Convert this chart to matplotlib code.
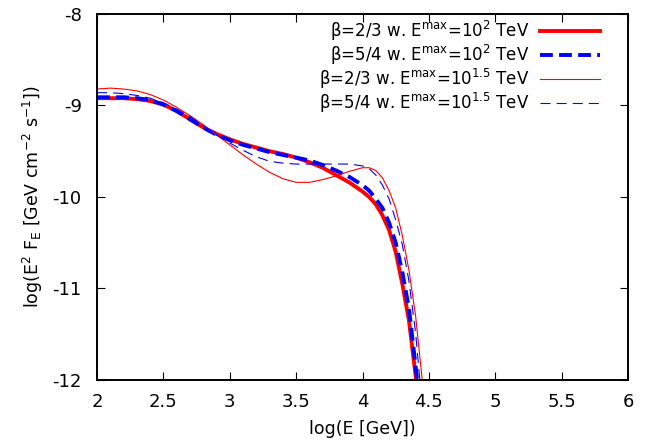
import numpy as np
import matplotlib
matplotlib.use("Agg")
import matplotlib.pyplot as plt

plt.rcParams['font.family'] = ['DejaVu Sans']
plt.rcParams['mathtext.default'] = 'regular'

# log(E [GeV]) sample points
logE = [2.0, 2.1, 2.2, 2.3, 2.4, 2.5, 2.6, 2.7, 2.8, 2.9, 3.0, 3.1, 3.2, 3.3, 3.4,
        3.5, 3.6, 3.7, 3.8, 3.9, 4.0, 4.05, 4.1, 4.15, 4.2, 4.25, 4.3, 4.35, 4.4,
        4.45, 4.5]

# beta=2/3, Emax=10^2 TeV
f_23_2 = [-8.92, -8.92, -8.92, -8.93, -8.95, -8.99, -9.06, -9.15, -9.24, -9.31,
          -9.37, -9.42, -9.46, -9.50, -9.53, -9.57, -9.62, -9.68, -9.76, -9.84,
          -9.94, -10.00, -10.08, -10.20, -10.36, -10.60, -10.95, -11.35, -11.95,
          -12.60, -13.3]
# beta=5/4, Emax=10^2 TeV
f_54_2 = [-8.91, -8.91, -8.91, -8.92, -8.94, -8.99, -9.06, -9.15, -9.24, -9.32,
          -9.38, -9.43, -9.47, -9.51, -9.54, -9.57, -9.60, -9.65, -9.71, -9.78,
          -9.87, -9.93, -10.02, -10.12, -10.28, -10.50, -10.82, -11.22, -11.85,
          -12.50, -13.2]
# beta=2/3, Emax=10^1.5 TeV
f_23_15 = [-8.82, -8.81, -8.82, -8.84, -8.88, -8.94, -9.02, -9.11, -9.21, -9.32,
           -9.43, -9.54, -9.64, -9.73, -9.80, -9.84, -9.84, -9.81, -9.77, -9.72,
           -9.68, -9.68, -9.71, -9.79, -9.93, -10.12, -10.42, -10.80, -11.30,
           -12.00, -12.70]
# beta=5/4, Emax=10^1.5 TeV
f_54_15 = [-8.86, -8.86, -8.87, -8.89, -8.92, -8.97, -9.04, -9.12, -9.22, -9.32,
           -9.41, -9.49, -9.56, -9.61, -9.63, -9.64, -9.64, -9.64, -9.64, -9.64,
           -9.66, -9.69, -9.76, -9.87, -10.02, -10.25, -10.52, -10.92, -11.48,
           -12.30, -13.0]

labels = [r'β=2/3 w. E$^{max}$=10$^{2}$ TeV',
          r'β=5/4 w. E$^{max}$=10$^{2}$ TeV',
          r'β=2/3 w. E$^{max}$=10$^{1.5}$ TeV',
          r'β=5/4 w. E$^{max}$=10$^{1.5}$ TeV']

fig = plt.figure(figsize=(6.51, 4.44), dpi=100)
ax = fig.add_axes([97/651, 64/444, 531/651, 366/444])

ax.plot(logE, f_23_2, color='red', lw=2.8, label=labels[0])
ax.plot(logE, f_54_2, color='blue', lw=2.8, dashes=(3.3, 1.6), label=labels[1])
ax.plot(logE, f_23_15, color='red', lw=0.8, label=labels[2])
ax.plot(logE, f_54_15, color='blue', lw=0.8, dashes=(9, 5.5), label=labels[3])

ax.set_xlim(2, 6)
ax.set_ylim(-12, -8)
ax.set_xticks([2, 2.5, 3, 3.5, 4, 4.5, 5, 5.5, 6])
ax.set_xticklabels(['2', '2.5', '3', '3.5', '4', '4.5', '5', '5.5', '6'])
ax.set_yticks([-12, -11, -10, -9, -8])
ax.set_yticklabels(['-12', '-11', '-10', '-9', '-8'])
ax.tick_params(direction='in', length=6, width=0.8, top=True, right=True,
               labelsize=13)
ax.tick_params(axis='x', pad=9)
ax.tick_params(axis='y', pad=11)
for s in ax.spines.values():
    s.set_linewidth(1.4)

ax.set_xlabel('log(E [GeV])', fontsize=12.5, labelpad=7)
ax.set_ylabel(r'log(E$^{2}$ F$_{E}$ [GeV cm$^{-2}$ s$^{-1}$])', fontsize=12.5,
              labelpad=5)

leg = ax.legend(loc='upper right', frameon=False, markerfirst=False,
                fontsize=12, handlelength=3.6, handletextpad=0.65,
                labelspacing=0.0, borderaxespad=0.0,
                bbox_to_anchor=(0.96, 1.006))

fig.savefig('out.png', dpi=100)
